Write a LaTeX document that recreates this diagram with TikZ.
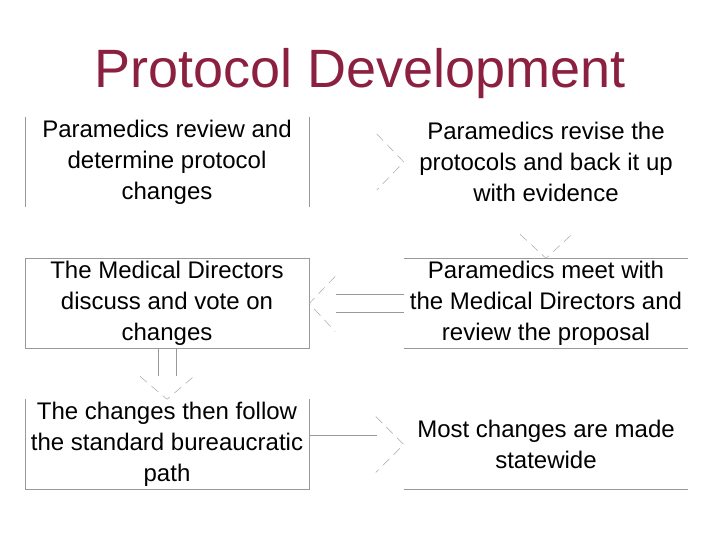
\documentclass[tikz,border=0pt]{standalone}
\usepackage{fontspec}
\setmainfont{Liberation Sans}
\usepackage{xcolor}
\usetikzlibrary{calc}
\definecolor{protored}{RGB}{139,32,64}

\begin{document}
\begin{tikzpicture}[x=1pt, y=-1pt,
        protobox/.style={minimum width=284pt, minimum height=90pt, inner sep=0pt, align=center, font=\fontsize{24}{31}\selectfont},
        edge/.style={draw=gray!80, line width=0.6pt},
        head/.style={draw=gray!70, line width=0.5pt, dash pattern=on 9pt off 6pt}]
        \useasboundingbox (0,0) rectangle (720,540);
        \node[anchor=base, text=protored, font=\fontsize{54}{60}\selectfont] at (360,88) (title) {Protocol Development};

        \node[protobox] at (167,162)   (B1) {Paramedics review and\\determine protocol\\changes};
        \node[protobox] at (546,162)   (B2) {Paramedics revise the\\protocols and back it up\\with evidence};
        \node[protobox] at (167,303.5) (B3) {The Medical Directors\\discuss and vote on\\changes};
        \node[protobox] at (546,303.5) (B4) {Paramedics meet with\\the Medical Directors and\\review the proposal};
        \node[protobox] at (167,444.5) (B5) {The changes then follow\\the standard bureaucratic\\path};
        \node[protobox] at (546,444.5) (B6) {Most changes are made\\statewide};

        % what is left of the box outlines
        \draw[edge] (B1.north west) -- (B1.south west);
        \draw[edge] (B1.north east) -- (B1.south east);
        \draw[edge] (B3.north west) rectangle (B3.south east);
        \draw[edge] (B4.north west) -- (B4.north east);
        \draw[edge] (B4.south west) -- (B4.south east);
        \draw[edge] (B5.north west) -- (B5.south west) -- (B5.south east) -- (B5.north east);
        \draw[edge] (B6.south west) -- (B6.south east);

        % block arrows
        \draw[head] ($(B2.west)+(-27,-28)$) -- (B2.west) -- ($(B2.west)+(-27,28)$);

        \draw[head] ($(B4.north)+(-26,-24)$) -- (B4.north) -- ($(B4.north)+(26,-24)$);

        \draw[edge] ($(B4.west)+(0,-9)$) -- ($(B3.east)+(27,-9)$);
        \draw[edge] ($(B4.west)+(0,9)$) -- ($(B3.east)+(27,9)$);
        \draw[head] ($(B3.east)+(26,-27)$) -- (B3.east) -- ($(B3.east)+(26,28)$);

        \draw[edge] ($(B3.south)+(-9,0)$) -- ($(B3.south)+(-9,27)$);
        \draw[edge] ($(B3.south)+(9,0)$) -- ($(B3.south)+(9,27)$);
        \draw[head] ($(B5.north)+(-27,-23)$) -- (B5.north) -- ($(B5.north)+(27,-23)$);

        \draw[edge] ($(B5.east)+(0,-9)$) -- ($(B6.west)+(-27,-9)$);
        \draw[head] ($(B6.west)+(-28,-28)$) -- (B6.west) -- ($(B6.west)+(-28,28)$);
    \end{tikzpicture}
\end{document}
